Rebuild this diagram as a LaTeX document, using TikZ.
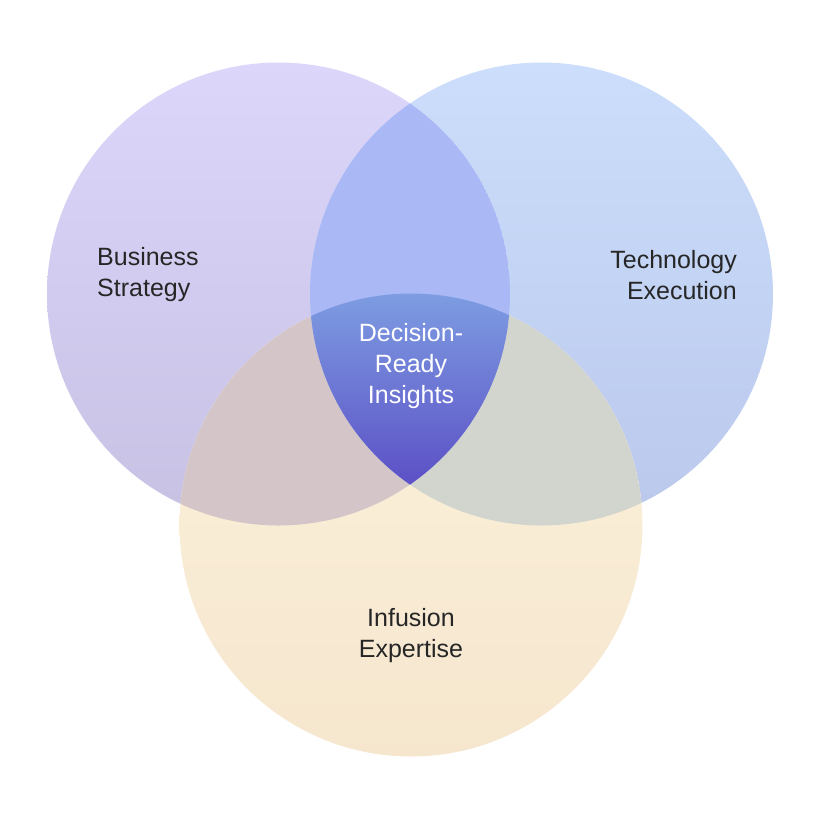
\documentclass[tikz,border=0pt]{standalone}
\usepackage{fontspec}
\setmainfont{Liberation Sans}
\definecolor{aT}{RGB}{219,214,250}\definecolor{aB}{RGB}{199,193,228}
\definecolor{bT}{RGB}{204,222,251}\definecolor{bB}{RGB}{186,200,236}
\definecolor{cT}{RGB}{252,243,220}\definecolor{cB}{RGB}{246,230,206}
\definecolor{ac}{RGB}{212,198,200}\definecolor{bc}{RGB}{210,212,206}
\definecolor{ab}{RGB}{170,185,246}
\definecolor{mT}{RGB}{126,158,226}\definecolor{mB}{RGB}{92,80,198}
\begin{document}
\begin{tikzpicture}[x=1pt,y=-1pt,
  lbl/.style={font=\fontsize{25}{31}\selectfont, text=black!85, inner sep=0pt}]
\useasboundingbox (0,0) rectangle (820,820);
\def\A{(278.5,294) circle (231.5)}
\def\B{(541.5,294) circle (231.5)}
\def\C{(411,525) circle (231.5)}
\shade[top color=aT, bottom color=aB] \A;
\shade[top color=bT, bottom color=bB] \B;
\begin{scope}
  \clip \C;
  \shade[top color=cT, bottom color=cB] (170,290) rectangle (650,760);
  \begin{scope}\clip \A; \fill[ac] \C; \end{scope}
  \begin{scope}\clip \B; \fill[bc] \C; \end{scope}
\end{scope}
\begin{scope}
  \clip \A; \clip \B;
  \fill[ab] \A;
  \clip \C;
  \shade[top color=mT, bottom color=mB] (300,290) rectangle (520,485);
\end{scope}
\node[lbl, anchor=west, align=left] (bs) at (97,275) {Business\\Strategy};
\node[lbl, anchor=east, align=right] (te) at (737,275) {Technology\\Execution};
\node[lbl, align=center, text=white] (dr) at (411,366) {Decision-\\Ready\\Insights};
\node[lbl, align=center] (ie) at (411,636) {Infusion\\Expertise};
\end{tikzpicture}
\end{document}
